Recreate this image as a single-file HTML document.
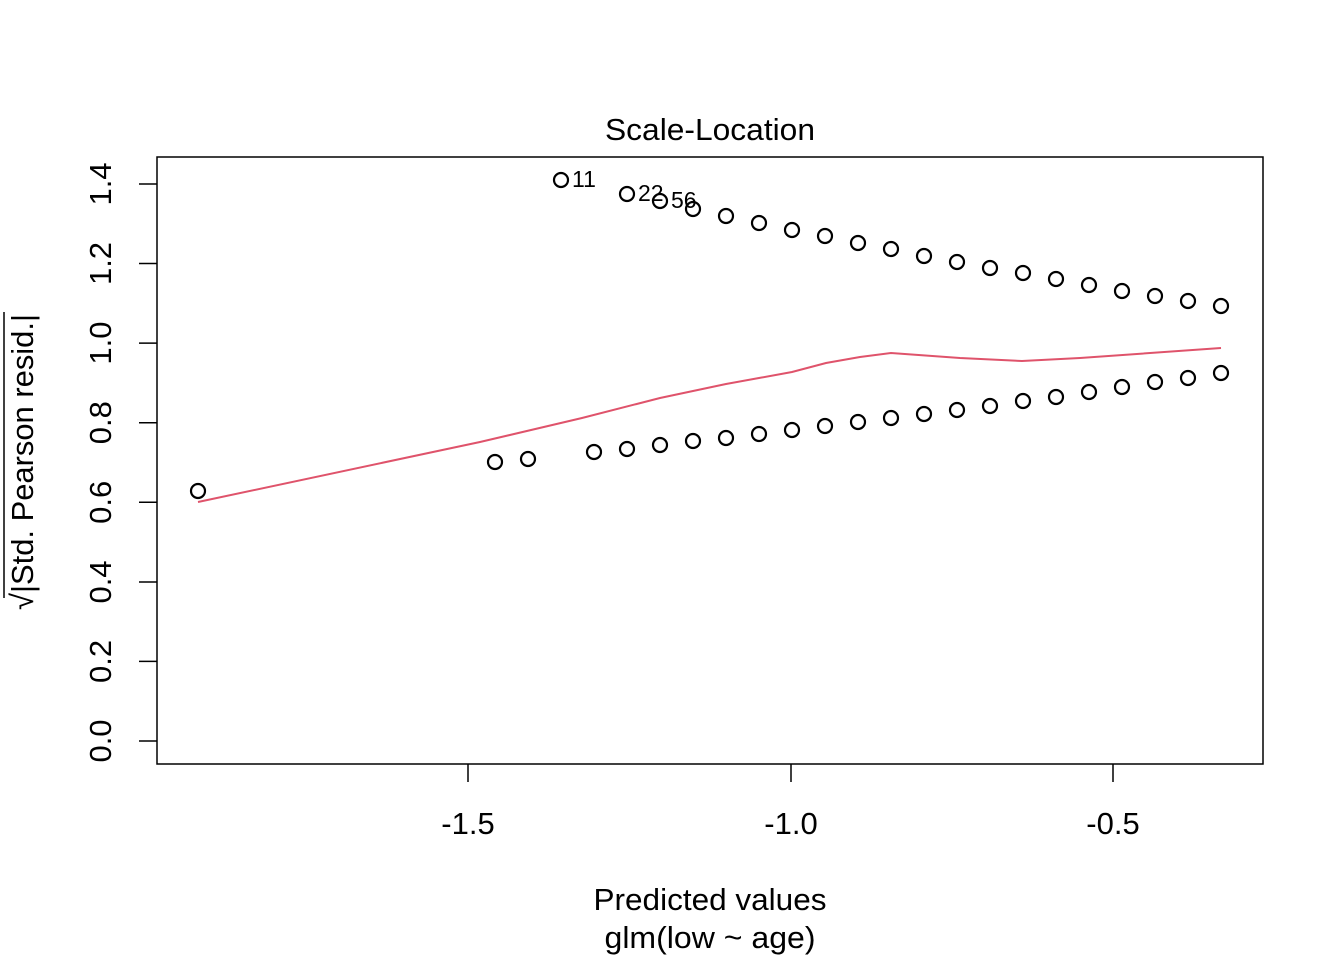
<!DOCTYPE html>
<html><head><meta charset="utf-8"><style>body{margin:0;background:#fff}</style></head><body>
<svg width="1344" height="960" xmlns="http://www.w3.org/2000/svg" font-family="Liberation Sans, sans-serif">
<rect width="1344" height="960" fill="#fff"/>
<rect x="157" y="157" width="1106" height="607" fill="none" stroke="#000" stroke-width="1.5"/>
<text x="710" y="140" font-size="31" text-anchor="middle" textLength="210" lengthAdjust="spacingAndGlyphs">Scale-Location</text>
<g stroke="#000" stroke-width="1.5">
<line x1="468" y1="764" x2="468" y2="782"/><line x1="791" y1="764" x2="791" y2="782"/><line x1="1113" y1="764" x2="1113" y2="782"/>
<line x1="139" y1="741" x2="157" y2="741"/><line x1="139" y1="661.4" x2="157" y2="661.4"/><line x1="139" y1="582" x2="157" y2="582"/><line x1="139" y1="502.3" x2="157" y2="502.3"/><line x1="139" y1="422.7" x2="157" y2="422.7"/><line x1="139" y1="343.1" x2="157" y2="343.1"/><line x1="139" y1="263.5" x2="157" y2="263.5"/><line x1="139" y1="184" x2="157" y2="184"/>
</g>
<g font-size="31" text-anchor="middle">
<text x="468" y="834">-1.5</text><text x="791" y="834">-1.0</text><text x="1113" y="834">-0.5</text>
<g transform="translate(111,0)">
<text transform="translate(0,741) rotate(-90)">0.0</text>
<text transform="translate(0,661.4) rotate(-90)">0.2</text>
<text transform="translate(0,582) rotate(-90)">0.4</text>
<text transform="translate(0,502.3) rotate(-90)">0.6</text>
<text transform="translate(0,422.7) rotate(-90)">0.8</text>
<text transform="translate(0,343.1) rotate(-90)">1.0</text>
<text transform="translate(0,263.5) rotate(-90)">1.2</text>
<text transform="translate(0,184) rotate(-90)">1.4</text>
</g>
<text x="710" y="910" textLength="233" lengthAdjust="spacingAndGlyphs">Predicted values</text>
<text x="710" y="948" textLength="211" lengthAdjust="spacingAndGlyphs">glm(low ~ age)</text>
<text transform="translate(33,462) rotate(-90)" textLength="296" lengthAdjust="spacingAndGlyphs">√|Std. Pearson resid.|</text>
</g>
<line x1="4" y1="312" x2="4" y2="598" stroke="#000" stroke-width="1.5"/>
<polyline fill="none" stroke="#DF536B" stroke-width="2" points="198,502 480,442 582,418 660,398 693,391 726,384 759,378 792,372 826,363 860,357 891,353 960,358 1022,361 1080,358 1221,348"/>
<g fill="none" stroke="#000" stroke-width="2.2">
<circle cx="561" cy="180" r="7"/><circle cx="627" cy="194" r="7"/><circle cx="660" cy="201" r="7"/><circle cx="693" cy="209" r="7"/><circle cx="726" cy="216" r="7"/><circle cx="759" cy="223" r="7"/><circle cx="792" cy="230" r="7"/><circle cx="825" cy="236" r="7"/><circle cx="858" cy="243" r="7"/><circle cx="891" cy="249" r="7"/><circle cx="924" cy="256" r="7"/><circle cx="957" cy="262" r="7"/><circle cx="990" cy="268" r="7"/><circle cx="1023" cy="273" r="7"/><circle cx="1056" cy="279" r="7"/><circle cx="1089" cy="285" r="7"/><circle cx="1122" cy="291" r="7"/><circle cx="1155" cy="296" r="7"/><circle cx="1188" cy="301" r="7"/><circle cx="1221" cy="306" r="7"/>
<circle cx="198" cy="491" r="7"/><circle cx="495" cy="462" r="7"/><circle cx="528" cy="459" r="7"/><circle cx="594" cy="452" r="7"/><circle cx="627" cy="449" r="7"/><circle cx="660" cy="445" r="7"/><circle cx="693" cy="441" r="7"/><circle cx="726" cy="438" r="7"/><circle cx="759" cy="434" r="7"/><circle cx="792" cy="430" r="7"/><circle cx="825" cy="426" r="7"/><circle cx="858" cy="422" r="7"/><circle cx="891" cy="418" r="7"/><circle cx="924" cy="414" r="7"/><circle cx="957" cy="410" r="7"/><circle cx="990" cy="406" r="7"/><circle cx="1023" cy="401" r="7"/><circle cx="1056" cy="397" r="7"/><circle cx="1089" cy="392" r="7"/><circle cx="1122" cy="387" r="7"/><circle cx="1155" cy="382" r="7"/><circle cx="1188" cy="378" r="7"/><circle cx="1221" cy="373" r="7"/>
</g>
<g font-size="23">
<text x="572" y="187">11</text><text x="638" y="201">22</text><text x="671" y="208">56</text>
</g>
</svg>
</body></html>
